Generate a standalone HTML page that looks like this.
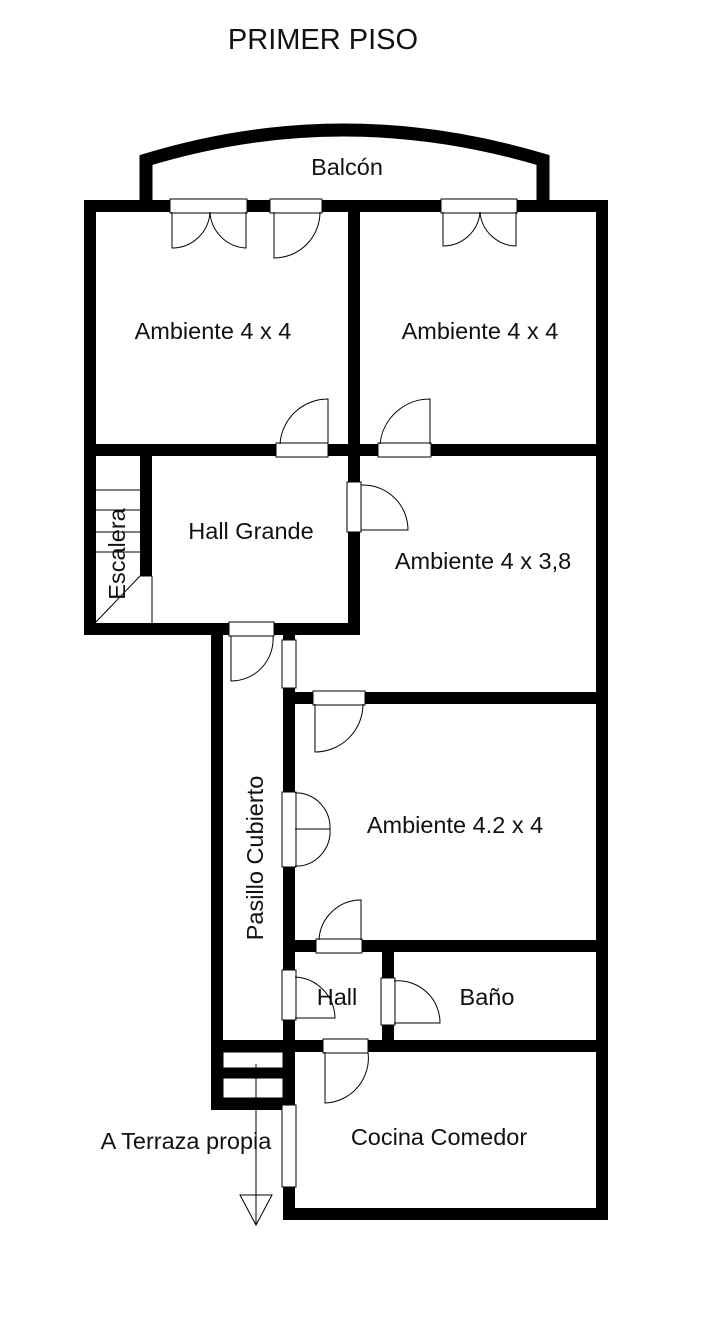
<!DOCTYPE html>
<html><head><meta charset="utf-8"><style>
html,body{margin:0;padding:0;background:#fff}
svg{display:block}
text{font-family:"Liberation Sans",Arial,sans-serif;fill:#111}
</style></head><body>
<svg width="720" height="1319" viewBox="0 0 720 1319">
<rect width="720" height="1319" fill="#fff"/>
<text x="323" y="49" font-size="29" text-anchor="middle">PRIMER PISO</text>
<path d="M146,200 V160 Q343,100 543,160 V200" fill="none" stroke="#000" stroke-width="13"/>
<g fill="#000">
<rect x="84" y="200" width="524" height="12"/>
<rect x="84" y="200" width="12" height="435"/>
<rect x="596" y="200" width="12" height="1020"/>
<rect x="348" y="200" width="12" height="435"/>
<rect x="84" y="444" width="524" height="12"/>
<rect x="140" y="456" width="12" height="120"/>
<rect x="84" y="623" width="276" height="12"/>
<rect x="211" y="623" width="12" height="487"/>
<rect x="283" y="635" width="12" height="585"/>
<rect x="283" y="692" width="325" height="12"/>
<rect x="283" y="940" width="325" height="12"/>
<rect x="382" y="952" width="12" height="90"/>
<rect x="211" y="1040" width="397" height="12"/>
<rect x="211" y="1068" width="80" height="10"/>
<rect x="211" y="1098" width="80" height="12"/>
<rect x="283" y="1208" width="325" height="12"/>
</g>
<g fill="#fff" stroke="#000" stroke-width="1">
<rect x="170" y="199" width="77" height="14"/>
<rect x="270" y="199" width="52" height="14"/>
<rect x="441" y="199" width="76" height="14"/>
<rect x="276" y="443" width="52" height="14"/>
<rect x="378" y="443" width="53" height="14"/>
<rect x="347" y="482" width="14" height="50"/>
<rect x="229" y="622" width="45" height="14"/>
<rect x="282" y="640" width="14" height="48"/>
<rect x="313" y="691" width="52" height="14"/>
<rect x="282" y="792" width="14" height="75"/>
<rect x="316" y="939" width="46" height="14"/>
<rect x="282" y="970" width="14" height="50"/>
<rect x="381" y="978" width="14" height="47"/>
<rect x="323" y="1039" width="45" height="14"/>
<rect x="282" y="1105" width="14" height="82"/>
<rect x="223" y="1052" width="60" height="16"/>
<rect x="223" y="1078" width="60" height="20"/>
</g>
<g fill="none" stroke="#000" stroke-width="1">
<path d="M172,212 V248 A38,38 0 0 0 210,212"/>
<path d="M246,212 V248 A38,38 0 0 1 210,212"/>
<path d="M274,212 V258 A46,46 0 0 0 320,212"/>
<path d="M443,212 V246 A37,37 0 0 0 480,212"/>
<path d="M516,212 V246 A37,37 0 0 1 480,212"/>
<path d="M328,444 V399 A48,48 0 0 0 280,444"/>
<path d="M430,444 V399 A50,50 0 0 0 380,444"/>
<path d="M361,485 H363 A45,45 0 0 1 408,530 H361"/>
<path d="M231,636 V681 A42,42 0 0 0 273,636"/>
<path d="M315,704 V752 A48,48 0 0 0 363,704"/>
<path d="M295,793 H300 A35,35 0 0 1 330,829 H295"/>
<path d="M295,866 H300 A35,35 0 0 0 330,829"/>
<path d="M361,940 V900 A42,42 0 0 0 319,940"/>
<path d="M295,977 A42,42 0 0 1 335,1018 H295"/>
<path d="M394,981 A42,42 0 0 1 440,1023 H394"/>
<path d="M325,1052 V1103 A45,45 0 0 0 368,1052"/>
<path d="M96,490 H140 M96,510 H140 M96,532 H140 M96,552 H140 M96,622 L140,576 L152,576 M152,576 V623"/>
<path d="M256,1064 V1225 M240,1195 H272 L256,1225 Z"/>
</g>
<text x="347" y="175" font-size="23.5" text-anchor="middle">Balcón</text>
<text x="213" y="339" font-size="23.5" text-anchor="middle">Ambiente 4 x 4</text>
<text x="480" y="339" font-size="23.5" text-anchor="middle">Ambiente 4 x 4</text>
<text x="251" y="539" font-size="23.5" text-anchor="middle">Hall Grande</text>
<text x="483" y="569" font-size="23.5" text-anchor="middle">Ambiente 4 x 3,8</text>
<text x="455" y="833" font-size="23.5" text-anchor="middle">Ambiente 4.2 x 4</text>
<text x="337" y="1005" font-size="23.5" text-anchor="middle">Hall</text>
<text x="487" y="1005" font-size="23.5" text-anchor="middle">Baño</text>
<text x="439" y="1145" font-size="23.5" text-anchor="middle">Cocina Comedor</text>
<text x="186" y="1149" font-size="23.5" text-anchor="middle">A Terraza propia</text>
<text transform="translate(125,554) rotate(-90)" font-size="23.5" text-anchor="middle">Escalera</text>
<text transform="translate(263,858) rotate(-90)" font-size="23.5" text-anchor="middle">Pasillo Cubierto</text>
</svg>
</body></html>
